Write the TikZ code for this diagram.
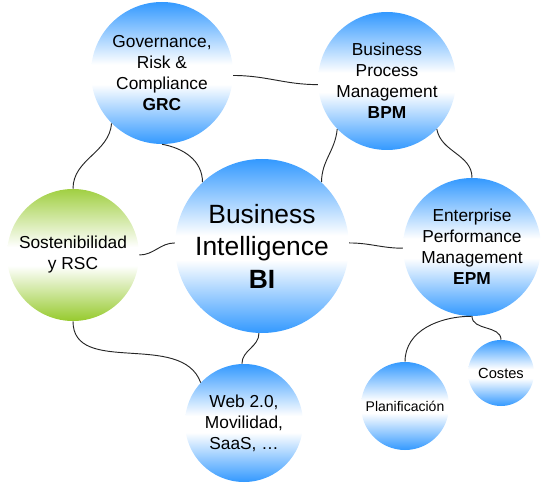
\documentclass[tikz,border=0pt]{standalone}
\usepackage{fontspec}
\setmainfont{Liberation Sans}
\usepackage{tikz}

\definecolor{ballblue}{RGB}{51,153,255}
\definecolor{ballgreen}{RGB}{150,202,45}
\pgfdeclareverticalshading{blueball}{100bp}{color(0bp)=(ballblue); color(25bp)=(ballblue); color(46bp)=(white); color(53bp)=(white); color(75bp)=(ballblue); color(100bp)=(ballblue)}
\pgfdeclareverticalshading{greenball}{100bp}{color(0bp)=(ballgreen); color(25bp)=(ballgreen); color(46bp)=(white); color(53bp)=(white); color(75bp)=(ballgreen!90); color(100bp)=(ballgreen!90)}

\begin{document}
\begin{tikzpicture}[x=0.75pt, y=0.75pt,
    ball/.style={circle, inner sep=0pt, shading=blueball, minimum size=#1*1.5pt, align=center},
    greenb/.style={ball=#1, shading=greenball},
    midtext/.style={font=\fontsize{13}{15.75}\selectfont},
    link/.style={draw=black!85, line width=0.7pt}]
    \useasboundingbox (0,0) rectangle (556,-488);

    \node[ball=71, midtext] (grc) at (162,-73) {Governance,\\Risk \&\\Compliance\\\textbf{GRC}};
    \node[ball=69, midtext] (bpm) at (387,-81) {Business\\Process\\Management\\\textbf{BPM}};
    \node[ball=87, font=\fontsize{19.8}{24.4}\selectfont] (bi) at (262,-246) {Business\\Intelligence\\\textbf{BI}};
    \node[greenb=66, midtext] (sost) at (73,-255) {Sostenibilidad\\y RSC};
    \node[ball=69, midtext] (epm) at (472,-247) {Enterprise\\Performance\\Management\\\textbf{EPM}};
    \node[ball=59, midtext] (web) at (244,-423) {Web 2.0,\\Movilidad,\\SaaS, \dots};
    \node[ball=44, font=\fontsize{10.5}{12}\selectfont] (plan) at (405,-406) {Planificación};
    \node[ball=33, font=\fontsize{11}{13}\selectfont] (cost) at (501,-373) {Costes};

    % enlaces
    \foreach \a/\b/\o/\i in {grc.-2/bpm.183/0/180, grc.-90/bi.133/-10/90,
        grc.225/sost.90/-95/90, bpm.224/bi.47/-95/90, bpm.-44/epm.90/-80/90,
        sost.0/bi.178/0/180, bi.2/epm.181/0/180, bi.-92/web.92/-90/90,
        sost.-90/web.137/-90/110, epm.-90/plan.90/180/90, epm.-90/cost.90/-90/90} {
        \draw[link] (\a) to[out=\o, in=\i] (\b);
    }
\end{tikzpicture}
\end{document}
